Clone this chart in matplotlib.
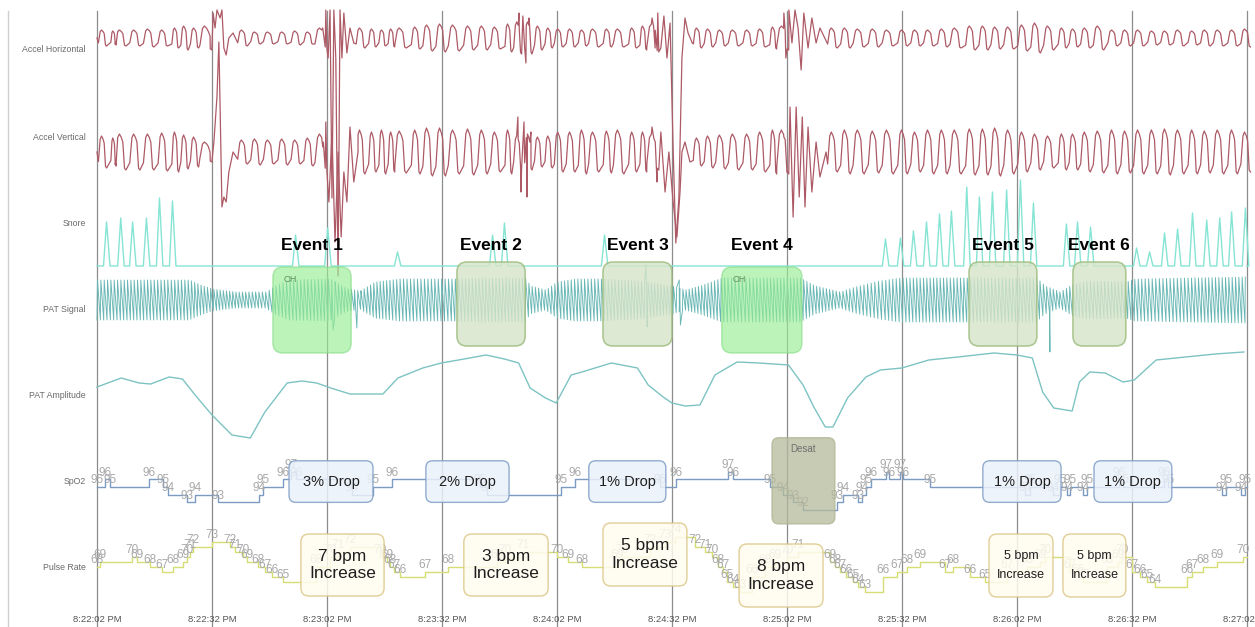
import numpy as np
import matplotlib
matplotlib.use("Agg")
import matplotlib.pyplot as plt
from matplotlib.patches import FancyBboxPatch

plt.rcParams['font.family'] = ['Liberation Sans', 'DejaVu Sans']

# time is in seconds after 8:22:02 PM
tick_times = [0, 30, 60, 90, 120, 150, 180, 210, 240, 270, 300]
tick_labels = ["8:22:02 PM", "8:22:32 PM", "8:23:02 PM", "8:23:32 PM", "8:24:02 PM",
               "8:24:32 PM", "8:25:02 PM", "8:25:32 PM", "8:26:02 PM", "8:26:32 PM",
               "8:27:02 PM"]
channel_names = ["Accel Horizontal", "Accel Vertical", "Snore", "PAT Signal",
                 "PAT Amplitude", "SpO2", "Pulse Rate"]

# breathing cycles seen on the accelerometer (peak times, s)
breath_t = [1.3, 4.2, 6.0, 9.7, 13.3, 17.0, 20.3, 22.7, 25.3, 28.2,
            37.8, 41.2, 44.6, 48.3, 51.7, 55.0, 58.2,
            68.6, 71.7, 74.3, 76.7, 79.0, 83.0, 86.1, 89.5, 92.9, 96.8, 100.4, 103.8,
            107.2, 109.6, 112.4, 115.0, 117.7, 120.3, 123.4, 126.5, 129.4, 133.0, 135.9,
            139.6, 142.4, 144.8,
            156.5, 159.4, 162.5, 165.9, 169.6, 173.0, 176.3, 178.7,
            191.7, 195.1, 198.5, 202.4, 206.1, 210.0, 213.4, 216.8, 220.4, 223.8, 227.7,
            231.1, 234.3, 237.7, 241.3, 244.7, 248.1, 251.7, 254.6, 257.7, 261.1, 264.8,
            268.2, 271.6, 275.2, 278.6, 282.0, 285.7, 289.0, 292.4, 296.1, 299.5]
accel_h_amp = [8, 7, 8, 8, 9, 8, 10, 12, 10, 12,
               8, 6, 6, 6, 7, 6, 10,
               10, 9, 8, 9, 10, 11, 13, 14, 13, 12, 12, 11, 14, 16, 16, 12, 10, 9, 9, 8,
               9, 9, 9, 10, 12, 14,
               10, 9, 8, 8, 8, 9, 11, 12,
               10, 10, 9, 9, 8, 8, 8, 8, 9, 10, 12, 12, 11, 11, 13, 15, 12, 10, 9, 10,
               12, 8, 8, 8, 7, 7, 8, 7, 8, 8, 8, 9]
accel_v_amp = [16, 14, 18, 18, 18, 19, 20, 17, 15, 10,
               12, 13, 12, 13, 12, 14, 18,
               22, 20, 22, 20, 21, 22, 24, 24, 22, 23, 22, 20, 22, 16, 18, 15, 16, 20,
               20, 22, 20, 21, 22, 20, 20, 18,
               14, 16, 17, 18, 18, 20, 22, 22,
               20, 22, 22, 21, 22, 22, 20, 22, 22, 22, 23, 23, 24, 22, 20, 18, 16, 18,
               18, 20, 21, 22, 21, 22, 22, 23, 22, 22, 21, 22, 22, 20]

# movement bursts on the accelerometer
accel_h_burst_t = [29.5, 30.3, 30.8, 31.3, 32.1, 32.6, 33.1, 33.7, 34.4, 35.5,
                   58.9, 59.7, 60.3, 60.8, 61.3, 61.8, 62.3, 62.9, 63.4, 63.9, 64.4, 65.2, 66.0, 67.0,
                   110.1, 110.6, 111.1, 111.9, 112.7,
                   144.8, 145.6, 146.3, 147.1, 147.9, 148.7, 149.5, 150.3, 151.0, 151.8, 152.6,
                   153.4, 154.2, 155.3,
                   179.2, 179.7, 180.5, 181.3, 182.1, 182.9, 183.7, 184.4, 185.5, 186.5, 187.6, 188.6]
accel_h_burst_v = [2, 25, 10, 28, 20, 28, -10, -17, 0, 5,
                   10, 28, -20, 28, -160, 28, -20, -238, 28, -20, 25, -15, 10, -5,
                   25, -15, 22, -25, 20,
                   20, -10, 25, -10, 22, -20, 15, -110, -205, -160, -20,
                   20, 5, -5,
                   25, -20, 28, -5, 28, 10, -32, 25, -10, 20, -5, 10]
accel_v_burst_t = [29.5, 30.5, 31.3, 31.8, 32.6, 33.1, 33.7, 34.4, 35.5,
                   58.9, 59.7, 60.5, 61.3, 62.1, 62.9, 63.7, 64.4, 65.2, 66.0, 67.0, 68.1,
                   109.8, 110.6, 111.4, 112.2, 113.2,
                   144.8, 146.1, 147.1, 148.2, 149.2, 150.3, 151.3, 152.1, 152.6, 153.4, 154.7, 155.7,
                   179.2, 180.0, 180.8, 181.6, 182.4, 183.2, 184.0, 184.7, 185.5, 186.5, 187.6,
                   188.6, 190.2]
accel_v_burst_v = [0, 10, 55, 110, -55, -45, -50, -20, 0,
                   5, 30, -50, 20, -90, 0, -85, -20, -50, 25, -30, 0,
                   35, -40, 30, -45, 20,
                   25, -30, 20, -40, 0, -50, -85, -40, 0, 10, -10, 0,
                   15, -20, 45, -65, 45, -45, 35, -55, 25, -40, 10, -25, 0]

# snore bursts
snore_t = [2.6, 6.3, 9.4, 13.0, 16.4, 19.8, 51.9, 60.3, 78.5, 103.3, 106.4, 132.5,
           205.8, 209.7, 213.1, 216.5, 219.9, 223.0, 227.0, 230.3, 233.7, 237.4, 241.0,
           244.4, 253.0, 255.9, 259.3, 271.3, 274.7, 278.6, 282.0, 285.9, 289.6, 293.0,
           296.1, 299.7]
snore_h = [44, 48, 44, 48, 68, 65, 31, 38, 14, 31, 43, 31,
           27, 28, 35, 44, 52, 55, 79, 69, 74, 76, 86,
           63, 42, 44, 39, 18, 14, 33, 37, 53, 46, 48,
           54, 58]

# PAT signal envelope (half height) and artefacts
pat_env_t = [0, 24, 27, 30, 36, 44, 46.4, 50, 60.8, 64.7, 68.6, 72.5, 79, 93, 100, 111.7,
             113, 117, 120, 124.7, 131, 141.7, 150, 153.4, 157.3, 163, 183.4, 187.3, 193.8,
             197.7, 204, 209.5, 245, 247.3, 251.2, 254.6, 259, 268.4, 270.8, 300]
pat_env_h = [20, 20, 15, 11, 8, 8, 14, 20, 21, 12, 9, 18, 21, 21, 22, 22,
             14, 10, 18, 21, 21, 19, 14, 10, 14, 22, 22, 14, 8,
             13, 19, 22, 22, 14, 8, 16, 19, 18, 21, 23]
pat_spike_t = [61.6, 62.2, 67.8, 69.0, 143.2, 143.5, 151.9, 152.2, 248.6]
pat_spike_v = [-30, 15, -28, 5, 35, -27, 20, -25, -52]

# PAT amplitude trend
pat_amp_t = [0, 6.3, 11, 14, 18.8, 22.3, 25.6, 30, 35.2, 40, 43.8, 49.6, 53.5, 57.3, 61,
             66, 74.6, 78.5, 85, 89.8, 95.8, 101.5, 106.3, 110, 113, 117, 119.8, 123.7,
             126.5, 134.2, 141, 143.8, 147.7, 150, 153.5, 157.3, 161.2, 167, 172.7, 180.4,
             184.2, 187, 190, 192, 195.8, 200.6, 204.4, 210, 217, 224.6, 234, 240, 244,
             246.7, 249.6, 254.4, 256.3, 259, 263, 267.7, 270.6, 276.3, 284, 291.7, 299.2]
pat_amp_v = [53, 62, 57, 56, 63, 61, 45, 25, 5, 2, 28, 57, 59, 57, 52,
             46, 46, 62, 72, 77, 81, 85, 81, 77, 52, 42, 37, 65,
             68, 77, 72, 55, 43, 37, 34, 35, 65, 78, 77, 75,
             55, 33, 13, 13, 42, 63, 70, 72, 80, 83, 87, 85, 82,
             48, 32, 29, 58, 68, 67, 58, 60, 80, 83, 86, 88]

# SpO2 (%)
spo2_t = [0.0, 2.1, 3.4, 13.6, 17.2, 18.5, 23.5, 25.6, 31.6, 42.3, 43.3, 48.5, 50.6, 51.9,
          66.5, 72.0, 77.0, 99.9, 101.7, 121.0, 124.7, 146.9, 151.0, 164.6, 165.9, 175.6,
          179.0, 181.6, 184.2, 193.0, 194.6, 198.5, 199.6, 200.6, 201.9, 205.8, 206.6,
          209.5, 210.3, 217.3, 242.1, 243.4, 249.4, 251.2, 253.0, 253.8, 257.2, 258.3,
          266.6, 267.7, 278.3, 279.4, 293.5, 294.5, 298.4, 299.5]
spo2_v = [95, 96, 95, 96, 95, 94, 93, 94, 93, 94, 95, 96, 97, 96,
          94, 95, 96, 95, 94, 95, 96, 95, 96, 97, 96, 95,
          94, 93, 92, 93, 94, 93, 94, 95, 96, 97, 96,
          97, 96, 95, 94, 95, 94, 95, 94, 95, 94, 95,
          96, 95, 96, 95, 94, 95, 94, 95]

# pulse rate (bpm)
pulse_t = [0.0, 0.8, 9.1, 10.4, 13.8, 17.0, 19.8, 22.4, 23.5, 24.3, 25.0, 30.0, 34.7, 36.0,
           38.1, 39.1, 42.0, 43.8, 45.7, 48.5, 57.1, 60.8, 62.9, 66.0, 73.8, 75.7, 76.4,
           77.5, 79.0, 85.6, 91.6, 104.3, 106.4, 111.1, 120.0, 122.9, 126.5, 135.7, 137.0,
           144.3, 148.2, 150.8, 156.0, 158.6, 160.4, 162.0, 163.3, 164.3, 165.9, 167.7,
           170.9, 174.3, 176.9, 180.0, 182.9, 191.2, 192.5, 193.8, 195.4, 197.2, 198.5,
           200.3, 205.0, 208.7, 211.3, 214.7, 221.2, 223.3, 227.7, 231.7, 237.4, 242.6,
           246.0, 247.3, 253.8, 255.9, 257.2, 263.5, 266.3, 267.4, 270.0, 272.1, 273.9,
           276.0, 284.3, 285.7, 288.5, 292.2, 299.0]
pulse_v = [68, 69, 70, 69, 68, 67, 68, 69, 70, 71, 72, 73, 72, 71,
           70, 69, 68, 67, 66, 65, 68, 70, 71, 72, 70, 69, 68,
           67, 66, 67, 68, 69, 70, 71, 70, 69, 68, 69, 70,
           72, 73, 74, 72, 71, 70, 68, 67, 65, 64, 63,
           66, 68, 69, 70, 71, 69, 68, 67, 66, 65, 64,
           63, 66, 67, 68, 69, 67, 68, 66, 65, 67, 68,
           69, 70, 67, 66, 65, 68, 69, 70, 67, 66, 65,
           64, 66, 67, 68, 69, 70]

# scored events
event_names = ["Event 1", "Event 2", "Event 3", "Event 4", "Event 5", "Event 6"]
event_start = [45.9, 93.9, 132.0, 163.0, 227.5, 254.6]
event_end = [66.3, 111.7, 150.0, 183.9, 245.2, 268.4]
event_oh = [True, False, False, True, False, False]

drop_text = ["3% Drop", "2% Drop", "1% Drop", "1% Drop", "1% Drop"]
drop_start = [50.1, 85.8, 128.3, 231.1, 260.1]
drop_end = [72.0, 107.5, 148.4, 251.5, 280.4]
desat_start, desat_end = 176.1, 192.5

hr_text = ["7 bpm\nIncrease", "3 bpm\nIncrease", "5 bpm\nIncrease", "8 bpm\nIncrease",
           "5 bpm\nIncrease", "5 bpm\nIncrease"]
hr_start = [53.2, 95.7, 132.0, 167.5, 232.7, 252.0]
hr_end = [74.9, 117.7, 153.9, 189.4, 249.4, 268.4]
hr_top = [74.5, 74.5, 76.7, 72.5, 74.5, 74.5]
hr_bottom = [62.1, 62.1, 64.1, 59.9, 61.9, 61.9]
hr_small = [False, False, False, False, True, True]

# ---------------------------------------------------------------------
W, H = 1255, 627
T0, T1 = -25.3, 302.1
PX_PER_S = W / (T1 - T0)

fig = plt.figure(figsize=(W / 100, H / 100), dpi=100)
fig.patch.set_facecolor("white")

bg = fig.add_axes([0, 0, 1, 1])
bg.set_xlim(T0, T1)
bg.set_ylim(H, 0)
bg.axis("off")
for t in tick_times:
    bg.axvline(t, ymin=0, ymax=1 - 11 / H, color="#8c8c8c", lw=0.9, zorder=1)
bg.axvline(T0 + 8 / PX_PER_S, ymin=0, ymax=1 - 11 / H, color="#cfcfcf", lw=1.0)
for t, lab in zip(tick_times, tick_labels):
    bg.text(t, 620, lab, ha="center", va="center", fontsize=6.8, color="#555555")

label_y = [50, 137, 223, 309, 395, 481, 567]
for name, y in zip(channel_names, label_y):
    bg.text(T0 + 86 / PX_PER_S, y, name, ha="right", va="center", fontsize=6.3,
            color="#6a6a6a")


def row_axes(top, bottom, lo, hi):
    ax = fig.add_axes([0, 1 - bottom / H, 1, (bottom - top) / H])
    ax.set_xlim(T0, T1)
    ax.set_ylim(lo, hi)
    ax.axis("off")
    ax.patch.set_alpha(0)
    return ax


def add_box(ax, t0, t1, lo, hi, radius, face, edge, lw=1.0, alpha=1.0):
    px_per_unit = ax.bbox.height / (ax.get_ylim()[1] - ax.get_ylim()[0])
    box = FancyBboxPatch((t0, lo), t1 - t0, hi - lo,
                         boxstyle=f"round,pad=0,rounding_size={radius}",
                         mutation_aspect=PX_PER_S / px_per_unit,
                         facecolor=face, edgecolor=edge, lw=lw, alpha=alpha,
                         clip_on=False, zorder=5)
    ax.add_patch(box)


def breath_trace(peaks, amps, burst_t, burst_v):
    # each breath: quick rise, rounded top, quick fall into a short trough
    peaks = np.asarray(peaks, float)
    amps = np.asarray(amps, float)
    period = np.minimum(np.diff(peaks, append=peaks[-1] + 3.4), 4.2)
    shape_t = np.array([-0.32, -0.16, -0.04, 0.1, 0.2, 0.32, 0.42])
    shape_v = np.array([-0.6, 0.8, 1.0, 0.8, 0.55, -0.9, -1.0])
    tt = (peaks[:, None] + period[:, None] * shape_t).ravel()
    vv = (amps[:, None] * shape_v).ravel()
    tt = np.concatenate([[0.0], tt, burst_t])
    vv = np.concatenate([[0.0], vv, burst_v])
    order = np.argsort(tt)
    return tt[order], vv[order]


accel_color = "#ad5a66"

# accelerometer channels
ax_h = row_axes(0, 95, -57, 38)
t, v = breath_trace(breath_t, accel_h_amp, accel_h_burst_t, accel_h_burst_v)
ax_h.plot(t, v, color=accel_color, lw=0.9, clip_on=False)

ax_v = row_axes(95, 215, -63, 57)
t, v = breath_trace(breath_t, accel_v_amp, accel_v_burst_t, accel_v_burst_v)
ax_v.plot(t, v, color=accel_color, lw=0.9, clip_on=False)

# snore
ax_s = row_axes(180, 266, 0, 86)
st, sv = [0.0], [0.0]
for t, h in zip(snore_t, snore_h):
    st += [t - 0.9, t - 0.1, t + 0.8]
    sv += [0, h, 0]
st.append(300.0)
sv.append(0.0)
ax_s.plot(st, sv, color="#86e4d4", lw=1.0, clip_on=False)

# PAT signal: one stroke per heart beat, beat spacing from the pulse rate
ax_p = row_axes(250, 350, -50, 50)
beats = [0.0]
while beats[-1] < 300:
    bpm = pulse_v[np.searchsorted(pulse_t, beats[-1], side="right") - 1]
    beats.append(beats[-1] + 60.0 / bpm)
beats = np.array(beats[:-1])
dt = np.diff(beats, append=300.0)
half = np.interp(beats, pat_env_t, pat_env_h)
pt = np.concatenate([beats, beats + 0.15 * dt, pat_spike_t])
pv = np.concatenate([-half, half, pat_spike_v])
order = np.argsort(pt)
ax_p.plot(pt[order], pv[order], color="#68b7b4", lw=0.65, clip_on=False)

for name, t0, t1, oh in zip(event_names, event_start, event_end, event_oh):
    if oh:
        add_box(ax_p, t0, t1, -53, 33, 2.6, "#98ee94", "#86dc86", alpha=0.65)
        ax_p.text(t0 + 4.5, 21, "OH", fontsize=6.5, color="#5f8f5f", ha="center",
                  va="center", zorder=6)
    else:
        add_box(ax_p, t0, t1, -46, 38, 2.6, "#d6e4c9", "#9dbd7f", lw=1.2, alpha=0.8)
    ax_p.text((t0 + t1) / 2, 54, name, ha="center", va="center", fontsize=12.5,
              fontweight="bold", color="black", zorder=7)

# PAT amplitude
ax_a = row_axes(350, 440, 0, 90)
ax_a.plot(pat_amp_t, pat_amp_v, color="#7dc3c3", lw=1.0, clip_on=False)

# SpO2
ax_o = row_axes(440, 527, 89.8, 101.1)
ax_o.step(np.append(spo2_t, 300.0), np.append(spo2_v, spo2_v[-1]), where="post",
          color="#7c9bc3", lw=1.0)
for t, v in zip(spo2_t, spo2_v):
    ax_o.annotate(str(v), (t, v), xytext=(0, 0.5), textcoords="offset points",
                  ha="center", va="bottom", fontsize=8.5, color="#a8a8a8", zorder=3)
for txt, t0, t1 in zip(drop_text, drop_start, drop_end):
    add_box(ax_o, t0, t1, 93.0, 98.4, 1.8, "#eaf1fa", "#7f9ec6", alpha=0.85)
    ax_o.text((t0 + t1) / 2, 95.6, txt, ha="center", va="center", fontsize=10.5,
              color="#1e1e1e", zorder=6)
add_box(ax_o, desat_start, desat_end, 90.2, 101.4, 1.8, "#b5ba9a", "#aeb393", alpha=0.75)
ax_o.text((desat_start + desat_end) / 2, 99.9, "Desat", ha="center", va="center",
          fontsize=7, color="#6f6f6f", zorder=6)

# pulse rate
ax_r = row_axes(527, 600, 61.3, 75.9)
ax_r.step(np.append(pulse_t, 300.0), np.append(pulse_v, pulse_v[-1]), where="post",
          color="#d5dd74", lw=1.0)
for t, v in zip(pulse_t, pulse_v):
    ax_r.annotate(str(v), (t, v), xytext=(0, 0.5), textcoords="offset points",
                  ha="center", va="bottom", fontsize=8.5, color="#a8a8a8", zorder=3)
for txt, t0, t1, top, bot, small in zip(hr_text, hr_start, hr_end, hr_top, hr_bottom,
                                        hr_small):
    add_box(ax_r, t0, t1, bot, top, 2.1, "#fffcf0", "#dcc685", alpha=0.85)
    ax_r.text((t0 + t1) / 2, (top + bot) / 2, txt, ha="center", va="center",
              fontsize=9 if small else 12.5, linespacing=1.75 if small else 1.25,
              color="#1e1e1e", zorder=6)

fig.savefig("out.png", dpi=100)
